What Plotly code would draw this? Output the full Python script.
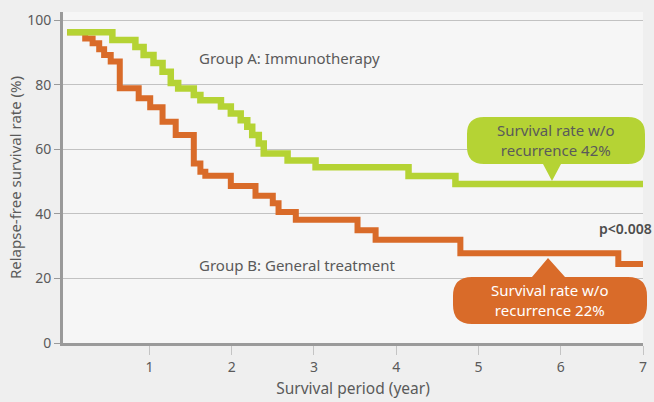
import plotly.graph_objects as go

# ---- data ----
years_a = [0, 0.55, 0.83, 0.93, 1.05, 1.16, 1.26, 1.35, 1.54, 1.62, 1.87, 1.99, 2.11, 2.19,
           2.25, 2.33, 2.39, 2.68, 3.02, 4.15, 4.72, 7.0]
surv_a = [96.2, 93.8, 91.7, 89.2, 86.7, 84.0, 80.5, 78.8, 76.8, 75.2, 73.2, 71.1, 69.0, 67.0,
          64.4, 61.8, 58.7, 56.5, 54.4, 51.7, 49.2, 49.2]

years_b = [0, 0.22, 0.31, 0.39, 0.45, 0.53, 0.64, 0.87, 1.01, 1.16, 1.32, 1.54, 1.62, 1.68,
           1.99, 2.29, 2.50, 2.57, 2.78, 3.53, 3.75, 4.78, 6.70, 7.0]
surv_b = [96.2, 94.3, 92.8, 91.0, 89.2, 87.2, 78.9, 75.8, 73.0, 68.5, 64.4, 55.6, 53.0, 51.8,
          48.6, 45.6, 43.3, 40.6, 38.2, 34.9, 32.0, 27.8, 24.5, 24.5]

x_ticks = [1, 2, 3, 4, 5, 6, 7]
y_ticks = [0, 20, 40, 60, 80, 100]

label_a = "Group A: Immunotherapy"
label_b = "Group B: General treatment"
callout_a = "Survival rate w/o<br>recurrence 42%"
callout_b = "Survival rate w/o<br>recurrence 22%"
p_text = "p<0.008"

GREEN = "#b5d334"
ORANGE = "#d96b29"
TEXT = "#5a5a5a"
FONT = "Noto Sans"

W, H = 654, 402
L, R, T, B = 63, 11, 12, 59
PW, PH = W - L - R, H - T - B


def px(X):
    return (X - L) / PW


def py(Y):
    return (H - B - Y) / PH


def callout_path(x0, y0, x1, y1, r, tip_x0, tip_x1, tip_apex, tip_y, bottom_tip):
    def P(x, y):
        return f"{px(x):.5f},{py(y):.5f}"
    d = f"M {P(x0 + r, y0)} "
    if not bottom_tip:
        d += f"L {P(tip_x0, y0)} L {P(tip_apex, tip_y)} L {P(tip_x1, y0)} "
    d += f"L {P(x1 - r, y0)} Q {P(x1, y0)} {P(x1, y0 + r)} "
    d += f"L {P(x1, y1 - r)} Q {P(x1, y1)} {P(x1 - r, y1)} "
    if bottom_tip:
        d += f"L {P(tip_x1, y1)} L {P(tip_apex, tip_y)} L {P(tip_x0, y1)} "
    d += f"L {P(x0 + r, y1)} Q {P(x0, y1)} {P(x0, y1 - r)} "
    d += f"L {P(x0, y0 + r)} Q {P(x0, y0)} {P(x0 + r, y0)} Z"
    return d


fig = go.Figure()
fig.add_trace(go.Scatter(x=years_b, y=surv_b, mode="lines", line=dict(color=ORANGE, width=6, shape="hv"),
                         showlegend=False, hoverinfo="skip", cliponaxis=False))
fig.add_trace(go.Scatter(x=years_a, y=surv_a, mode="lines", line=dict(color=GREEN, width=6.5, shape="hv"),
                         showlegend=False, hoverinfo="skip", cliponaxis=False))

shapes = [
    dict(type="path", xref="paper", yref="paper", layer="above", line=dict(width=0), fillcolor=GREEN,
         path=callout_path(467, 117, 645, 164, 17, 543, 561, 552, 181, True)),
    dict(type="path", xref="paper", yref="paper", layer="above", line=dict(width=0), fillcolor=ORANGE,
         path=callout_path(453, 277, 647, 324, 19, 532, 565, 548, 258, False)),
]

annotations = [
    dict(text=label_a, xref="paper", yref="paper", x=px(197), y=py(58), xanchor="left", yanchor="middle",
         showarrow=False, font=dict(family=FONT, size=15, color=TEXT)),
    dict(text=label_b, xref="paper", yref="paper", x=px(197), y=py(265), xanchor="left", yanchor="middle",
         showarrow=False, font=dict(family=FONT, size=15, color=TEXT)),
    dict(text=p_text, xref="paper", yref="paper", x=px(654), y=py(228), xanchor="right", yanchor="middle",
         showarrow=False, font=dict(family=FONT, size=14, color="#4d4d4d", weight=600)),
    dict(text=callout_a, xref="paper", yref="paper", x=px(556), y=py(140), xanchor="center", yanchor="middle",
         showarrow=False, font=dict(family=FONT, size=15, color=TEXT), align="center"),
    dict(text=callout_b, xref="paper", yref="paper", x=px(550), y=py(300), xanchor="center", yanchor="middle",
         showarrow=False, font=dict(family=FONT, size=15, color="white"), align="center"),
]

fig.update_layout(
    width=W, height=H,
    margin=dict(l=L, r=R, t=T, b=B),
    paper_bgcolor="#efefef",
    plot_bgcolor="#f6f6f6",
    font=dict(family=FONT, color=TEXT),
    shapes=shapes,
    annotations=annotations,
    xaxis=dict(range=[-0.05, 7], tickvals=x_ticks, ticktext=[str(v) for v in x_ticks],
               showgrid=False, zeroline=False, showline=True, linecolor="#9a9a9a", linewidth=3,
               ticks="outside", ticklen=9, tickcolor="#c4c4c4", tickwidth=1, automargin=False,
               tickfont=dict(size=14, color=TEXT),
               title=dict(text="Survival period (year)", font=dict(size=15.5, color=TEXT), standoff=9)),
    yaxis=dict(range=[0, 102.5], tickvals=y_ticks, ticktext=[str(v) for v in y_ticks],
               showgrid=True, gridcolor="#c2c2c2", gridwidth=1.3, zeroline=False,
               showline=True, linecolor="#9a9a9a", linewidth=3, automargin=False,
               ticks="outside", ticklen=6, tickcolor="#9a9a9a", tickwidth=1,
               tickfont=dict(size=14, color=TEXT),
               title=dict(text="Relapse-free survival rate (%)", font=dict(size=15, color=TEXT), standoff=2)),
)

fig.write_html("out.html", config={"displayModeBar": False},
               post_script="document.body.style.margin='0px';")
